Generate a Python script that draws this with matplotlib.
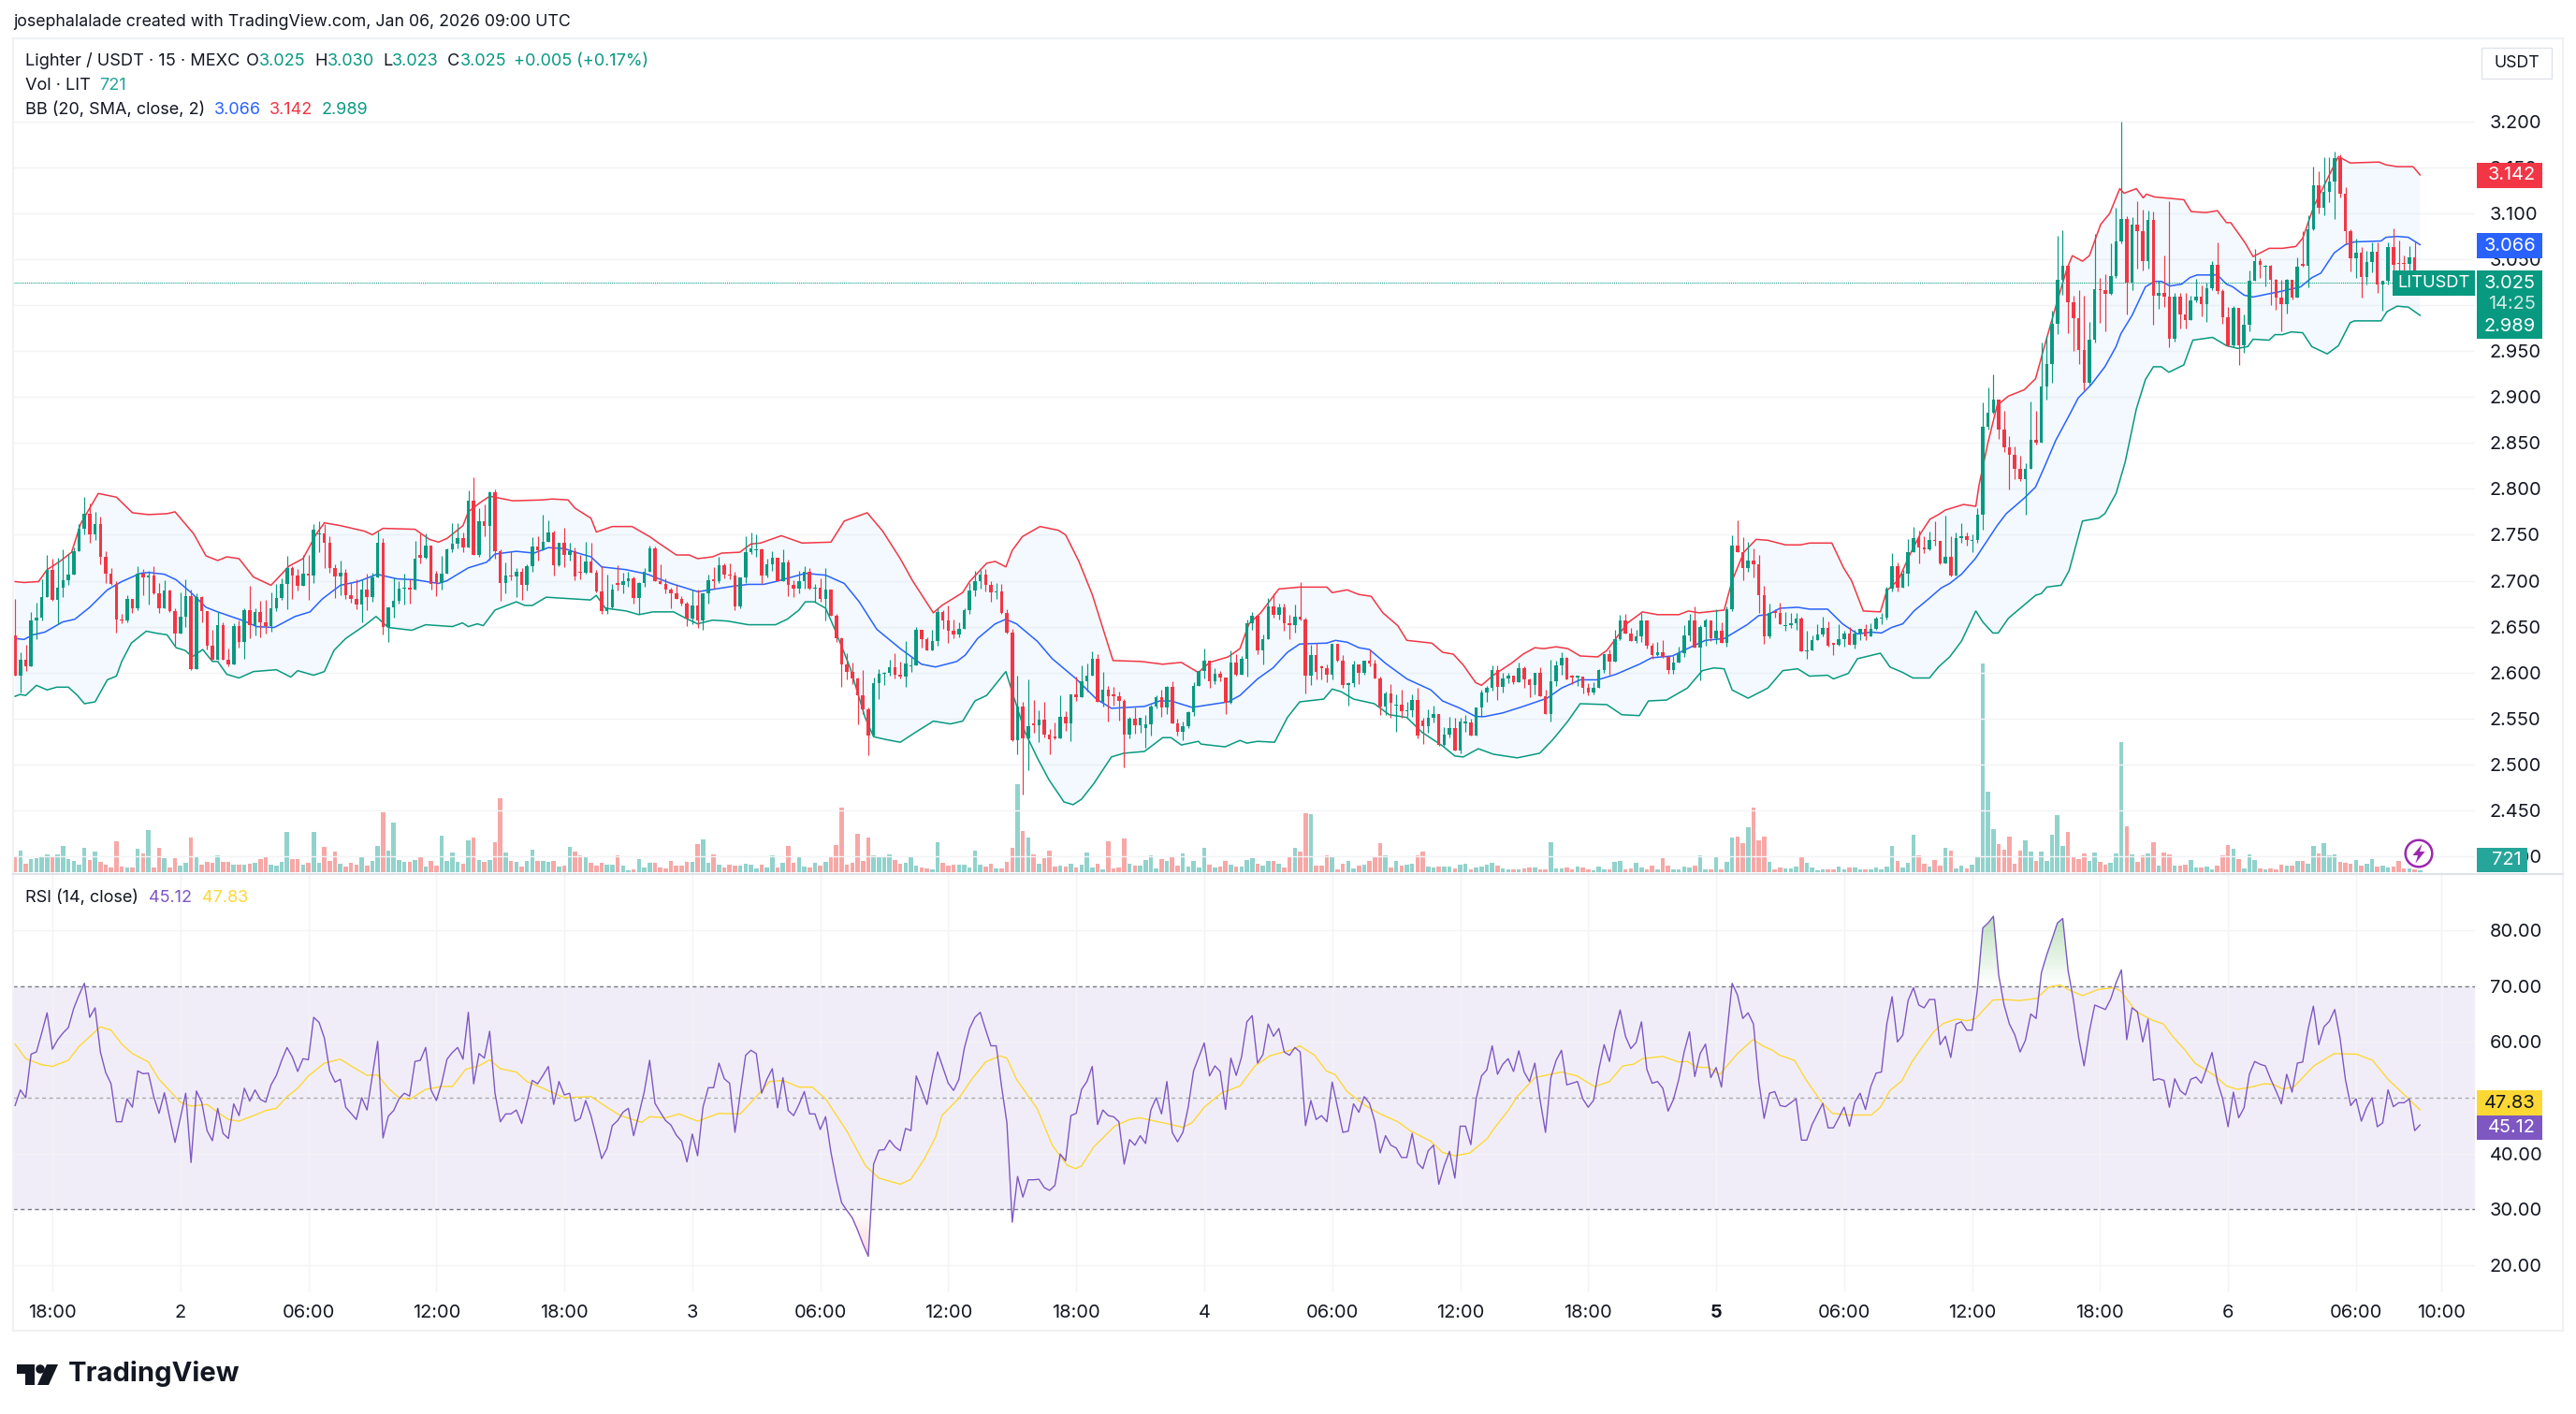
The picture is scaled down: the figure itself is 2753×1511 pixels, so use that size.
import numpy as np
import matplotlib
matplotlib.use('Agg')
import matplotlib.pyplot as plt
from matplotlib.patches import Rectangle, Circle, Polygon
from matplotlib.path import Path

plt.rcParams['font.family'] = ['Inter', 'Roboto', 'DejaVu Sans']

# 15 minute candles, prices in thousandths of USDT
first_open = 2640
closes = [
    2597,2614,2607,2657,2660,2682,2712,2679,2692,2701, 2707,2732,2757,2773,2750,2762,2726,2708,2696,2658,
    2657,2680,2670,2708,2704,2706,2686,2670,2689,2667, 2642,2661,2683,2604,2682,2667,2629,2614,2652,2614,
    2609,2651,2633,2668,2652,2666,2655,2651,2670,2681, 2696,2714,2706,2694,2708,2706,2756,2751,2741,2714,
    2705,2709,2684,2680,2674,2690,2682,2704,2741,2650, 2671,2678,2691,2692,2690,2724,2725,2738,2696,2697,
    2708,2734,2740,2746,2736,2787,2728,2765,2760,2796, 2732,2697,2706,2705,2710,2695,2716,2737,2733,2742,
    2752,2717,2741,2728,2732,2705,2709,2721,2709,2688, 2667,2671,2690,2695,2699,2703,2681,2697,2710,2735,
    2700,2696,2690,2686,2680,2675,2659,2673,2657,2686, 2701,2700,2717,2707,2706,2672,2704,2731,2735,2734,
    2706,2718,2725,2699,2720,2695,2691,2699,2710,2691, 2692,2680,2690,2662,2637,2609,2601,2593,2575,2560,
    2531,2588,2599,2600,2606,2598,2596,2610,2608,2646, 2636,2624,2634,2666,2657,2645,2641,2648,2668,2689,
    2699,2707,2695,2687,2688,2665,2643,2526,2563,2528, 2542,2543,2549,2532,2527,2528,2552,2545,2576,2573,
    2590,2597,2615,2568,2581,2574,2574,2569,2532,2550, 2543,2551,2544,2563,2573,2562,2584,2545,2535,2542,
    2557,2585,2602,2613,2590,2599,2595,2567,2611,2598, 2615,2654,2662,2624,2636,2672,2663,2671,2654,2652,
    2661,2658,2597,2619,2601,2605,2598,2631,2613,2586, 2588,2609,2600,2613,2610,2594,2563,2577,2567,2565,
    2558,2559,2570,2531,2542,2551,2555,2521,2532,2539, 2515,2547,2546,2531,2562,2578,2583,2603,2584,2593,
    2597,2589,2605,2592,2586,2600,2574,2555,2590,2608, 2616,2592,2595,2596,2583,2578,2583,2603,2620,2612,
    2636,2657,2642,2634,2639,2657,2629,2619,2622,2617, 2603,2611,2621,2640,2657,2627,2650,2657,2637,2645,
    2632,2669,2738,2731,2714,2722,2718,2684,2639,2665, 2665,2653,2652,2654,2659,2623,2624,2635,2641,2649,
    2629,2630,2636,2642,2630,2642,2648,2639,2648,2659, 2660,2691,2716,2692,2708,2731,2746,2736,2734,2744,
    2743,2719,2726,2706,2746,2748,2744,2744,2772,2868, 2883,2897,2865,2845,2837,2822,2811,2822,2853,2850,
    2912,2936,2980,3028,3043,3003,2986,2951,2916,2962, 3018,3016,3012,3032,3070,3094,3025,3088,3081,3048,
    3093,3010,3013,3009,2964,3009,2990,2984,3005,3009, 3001,3019,3044,3015,2987,2956,2997,2956,2979,3027,
    3048,3044,3043,3028,3008,3001,3028,3008,3042,3043, 3083,3131,3106,3124,3135,3160,3122,3081,3051,3057,
    3031,3047,3058,3023,3027,3063,3044,3045,3045,3052, 3020,3025]
highs = [
    2680,2622,2630,2666,2676,2702,2728,2724,2725,2734, 2729,2736,2762,2791,2784,2775,2770,2732,2714,2699,
    2664,2684,2679,2716,2713,2711,2716,2697,2701,2690, 2670,2687,2702,2690,2686,2683,2663,2647,2666,2655,
    2626,2654,2657,2670,2694,2670,2678,2679,2687,2696, 2703,2727,2716,2713,2728,2728,2762,2765,2762,2748,
    2718,2722,2713,2697,2702,2702,2708,2709,2754,2746, 2671,2704,2700,2708,2702,2743,2751,2751,2738,2711,
    2727,2735,2763,2763,2752,2798,2813,2779,2783,2797, 2799,2734,2720,2732,2714,2714,2718,2747,2748,2772,
    2766,2755,2741,2758,2741,2736,2728,2742,2741,2712, 2716,2707,2696,2717,2709,2710,2705,2698,2714,2738,
    2737,2718,2703,2692,2695,2683,2677,2690,2690,2686, 2707,2715,2726,2719,2719,2710,2704,2748,2752,2750,
    2735,2724,2732,2725,2734,2723,2701,2711,2716,2714, 2696,2703,2714,2685,2664,2638,2621,2611,2595,2603,
    2562,2595,2604,2601,2614,2621,2612,2634,2617,2650, 2646,2638,2647,2670,2668,2673,2658,2655,2670,2697,
    2711,2712,2713,2700,2697,2696,2669,2648,2597,2568, 2592,2570,2559,2568,2538,2546,2575,2558,2576,2596,
    2608,2610,2623,2620,2601,2585,2584,2579,2571,2552, 2562,2551,2554,2565,2575,2581,2585,2590,2550,2547,
    2558,2589,2602,2626,2612,2605,2602,2592,2624,2620, 2618,2658,2666,2663,2641,2681,2686,2675,2675,2663,
    2674,2698,2660,2630,2632,2608,2609,2631,2628,2619, 2589,2613,2608,2613,2625,2614,2596,2579,2587,2576,
    2581,2568,2576,2583,2551,2560,2564,2555,2541,2552, 2551,2551,2554,2550,2562,2581,2585,2608,2608,2600,
    2600,2595,2611,2607,2594,2600,2606,2581,2614,2613, 2622,2617,2598,2597,2594,2588,2589,2604,2620,2625,
    2646,2663,2664,2649,2646,2665,2657,2632,2633,2635, 2618,2618,2628,2652,2664,2672,2652,2659,2652,2669,
    2655,2672,2749,2766,2747,2742,2735,2728,2694,2675, 2669,2676,2666,2665,2665,2661,2645,2640,2653,2661,
    2656,2632,2653,2645,2650,2647,2648,2653,2654,2661, 2665,2693,2730,2720,2712,2745,2759,2755,2748,2754,
    2765,2743,2771,2748,2752,2763,2752,2750,2779,2894, 2911,2925,2897,2885,2857,2846,2836,2828,2895,2885,
    2959,2967,2994,3076,3082,3042,3010,3016,3010,2982, 3078,3030,3034,3067,3106,3200,3097,3096,3113,3104,
    3103,3102,3027,3054,3113,3013,3013,3013,3010,3029, 3022,3025,3048,3068,3018,2998,2999,2994,2990,3038,
    3061,3051,3044,3044,3029,3028,3029,3026,3052,3081, 3098,3151,3146,3161,3161,3167,3164,3129,3083,3073,
    3063,3059,3069,3069,3027,3068,3084,3071,3054,3064, 3070,3030]
lows = [
    2597,2578,2602,2608,2636,2657,2684,2678,2653,2682, 2695,2708,2734,2750,2741,2744,2718,2697,2695,2643,
    2654,2655,2665,2668,2684,2674,2685,2665,2672,2666, 2629,2644,2650,2603,2612,2655,2625,2614,2621,2614,
    2607,2615,2627,2615,2637,2640,2638,2642,2644,2667, 2679,2669,2680,2689,2696,2679,2697,2731,2714,2709,
    2681,2684,2680,2676,2669,2655,2668,2677,2708,2641, 2633,2660,2675,2674,2675,2690,2719,2724,2690,2683,
    2690,2708,2731,2735,2731,2740,2728,2726,2748,2722, 2724,2678,2686,2701,2682,2679,2689,2710,2722,2733,
    2742,2706,2716,2715,2722,2701,2702,2708,2709,2687, 2664,2664,2670,2689,2686,2693,2675,2664,2693,2711,
    2700,2696,2686,2670,2680,2673,2651,2653,2649,2647, 2675,2691,2697,2703,2702,2668,2670,2697,2729,2726,
    2696,2704,2711,2699,2699,2683,2682,2686,2691,2690, 2677,2677,2657,2662,2633,2584,2592,2587,2544,2555,
    2510,2531,2571,2586,2597,2594,2594,2584,2601,2609, 2627,2624,2632,2629,2648,2632,2637,2638,2648,2664,
    2683,2691,2688,2677,2680,2664,2642,2525,2511,2467, 2494,2534,2524,2529,2511,2527,2537,2536,2525,2569,
    2580,2579,2600,2568,2563,2547,2564,2548,2497,2528, 2533,2534,2518,2531,2561,2552,2555,2545,2531,2526,
    2539,2553,2586,2593,2583,2587,2590,2555,2566,2597, 2599,2596,2646,2620,2609,2641,2660,2658,2645,2636,
    2643,2657,2577,2586,2592,2592,2589,2592,2612,2583, 2564,2584,2587,2598,2607,2594,2554,2554,2551,2535,
    2551,2552,2552,2528,2522,2534,2546,2520,2520,2529, 2515,2512,2535,2531,2533,2552,2568,2580,2570,2578,
    2588,2587,2594,2583,2573,2576,2574,2555,2547,2585, 2598,2592,2587,2585,2577,2575,2576,2583,2600,2598,
    2612,2635,2642,2634,2632,2633,2626,2615,2618,2616, 2599,2599,2612,2617,2634,2627,2591,2629,2634,2631,
    2632,2628,2667,2731,2701,2710,2704,2665,2631,2637, 2660,2653,2645,2649,2646,2623,2615,2626,2636,2639,
    2628,2619,2629,2628,2630,2626,2635,2635,2639,2647, 2653,2658,2688,2688,2692,2694,2735,2719,2730,2733,
    2738,2718,2722,2705,2716,2741,2738,2731,2741,2756, 2865,2882,2854,2840,2799,2811,2809,2772,2824,2848,
    2850,2897,2916,2969,3011,2970,2950,2936,2907,2913, 2959,2981,2972,3011,3030,3067,2990,3016,3040,3038,
    3040,2979,2996,2998,2954,2960,2975,2975,2984,3003, 2988,2982,3017,3012,2980,2955,2954,2935,2948,2972,
    3030,3030,3021,3000,2995,2972,2991,3006,3015,3042, 3020,3082,3100,3098,3112,3094,3117,3067,3037,3030,
    3008,3023,3036,3013,2994,3023,3023,3020,3022,3030, 3013,3023]
# bars whose open was not the previous close (candle number: open)
open_exceptions = {57: 2750, 76: 2728, 79: 2708, 106: 2710, 113: 2697, 139: 2733, 168: 2607, 191: 2545,
                   195: 2530, 206: 2576, 212: 2539, 245: 2607, 259: 2564, 264: 2548, 272: 2545, 292: 2596,
                   330: 2667, 332: 2651, 341: 2632, 367: 2743, 422: 3042, 429: 3045, 447: 3046, 448: 3046}

# volume, hundreds of LIT
volumes = [
    50,68,27,42,45,47,58,52,57,83, 42,35,25,78,40,65,32,25,14,98, 18,14,14,76,60,135,16,78,45,15,
    45,22,30,110,50,25,32,30,55,33, 33,25,25,25,28,30,42,52,25,20, 33,130,42,42,25,30,128,30,82,35,
    65,28,18,30,25,48,22,35,85,192, 70,160,40,33,33,38,52,18,35,22, 118,37,63,33,27,102,112,40,32,40,
    95,236,63,35,32,18,35,72,37,37, 32,35,17,22,82,65,55,50,30,22, 30,25,25,55,22,5,8,42,15,30,
    30,15,12,35,22,22,33,33,90,105, 30,57,25,15,25,20,22,28,25,12, 25,15,55,15,30,85,30,48,18,15,
    30,20,33,50,88,207,25,30,122,35, 110,55,50,50,58,40,28,30,48,22, 15,12,10,95,30,22,25,25,25,15,
    68,25,18,27,12,12,33,78,282,132, 110,57,28,45,68,18,22,18,27,14, 25,62,15,27,8,98,12,15,108,28,
    22,20,40,55,12,42,35,50,22,60, 18,35,15,78,25,15,18,35,25,18, 18,38,45,27,22,35,35,28,15,48,
    78,66,190,186,22,20,55,50,10,28, 35,13,22,25,35,50,92,55,15,35, 20,25,28,55,66,18,15,18,18,18,
    12,25,27,10,15,18,25,30,22,12, 10,10,10,12,15,15,10,10,95,12, 12,15,10,18,15,8,5,18,10,10,
    32,35,10,12,30,15,10,22,10,45, 22,10,10,18,15,20,55,10,10,48, 10,32,110,115,92,145,207,102,115,32,
    10,15,12,12,18,48,30,15,5,8, 8,8,18,10,15,15,8,8,10,15, 10,18,85,37,15,30,120,55,27,18,
    38,22,78,70,12,20,12,23,52,670, 258,138,90,72,114,27,70,102,66,36, 66,36,120,183,84,129,51,42,60,36,
    63,33,24,30,60,417,147,57,33,54, 60,96,21,63,57,21,21,24,39,15, 15,18,9,21,54,87,75,42,12,57,
    39,12,9,12,9,24,21,21,36,36, 27,84,60,93,54,57,33,30,27,39, 21,27,42,18,21,15,18,36,12,12,
    9,7.21]

# Bollinger bands (candle number, price in thousandths)
upper_k = [0,1.7,4.4,6,8.4,10.6,12.3,15.6,19,22,25,28.5,30,33.5,35.8,38,39.7,42,44.7,48,51.4,54,56.5,58,61,65.5,67,69,75,77.7,
           79.4,81,84,85,87.2,89,93.4,99,100.7,103.7,105,108,109,112,115.7,119,120.7,124,126.4,128,130.8,132.5,135.9,138,139.8,143.7,147.6,153,155.5,159.8,
           162.7,166,168.3,172.2,173.8,177.7,179,182.2,183.8,185.8,187,188.9,192.2,195.6,197,199.5,202,205.9,211.2,215.2,218.7,221.9,224,227.5,229.7,231.4,233.6,237,240.9,246,
           247,249.8,252,254.3,256.5,259.3,261,265.7,267.7,269.7,271.6,273.9,275,277.2,280.6,282.8,285,286.7,289,291.2,293.5,296.8,298.5,300.2,302.4,305.2,308,312,313.8,315.8,
           320.5,322,324.2,326.5,328.7,332,334.8,336.5,340.7,342.9,344.4,346.6,349.8,351,353.2,355.3,357.4,359.1,360.7,362,365.4,367.7,368.3,370,371.7,373.8,376.8,378.9,
           380.5,382.7,384.8,385.8,387.7,389,391.1,392.8,394.7,395.5,397.8,399.1,399.7,401.2,406.7,408.1,410.9,413,414.7,415.5,418.2,419.7,422.7,425.2,427.7,429,431.1,435.7,437.9,443.3,
           444.6,446.7,449.7,451]
upper_v = [2699,2698,2699,2712,2721,2731,2762,2795,2791,2774,2772,2773,2775,2751,2727,2722,2726,2724,2704,2695,2716,2724,2751,2763,2760,2754,2750,2757,2756,2745,
           2742,2746,2760,2775,2785,2792,2787,2788,2789,2788,2779,2768,2753,2759,2759,2748,2741,2728,2728,2724,2726,2730,2731,2740,2741,2749,2741,2742,2765,2774,
           2754,2724,2700,2665,2673,2687,2699,2719,2721,2715,2733,2748,2759,2755,2750,2721,2685,2613,2612,2609,2611,2600,2611,2617,2626,2653,2665,2691,2693,2693,
           2687,2690,2685,2683,2665,2651,2635,2632,2622,2620,2608,2589,2586,2597,2610,2620,2627,2626,2628,2626,2618,2617,2624,2637,2654,2666,2663,2663,2667,2665,
           2668,2700,2731,2745,2744,2739,2739,2741,2741,2714,2700,2667,2666,2689,2701,2728,2752,2767,2772,2777,2783,2781,2804,2851,2891,2901,2908,2920,
           2954,2999,3040,3054,3048,3054,3088,3100,3127,3122,3127,3117,3121,3118,3115,3102,3101,3103,3090,3090,3068,3053,3062,3062,3064,3073,3108,3162,3155,3156,
           3153,3151,3151,3142]
middle_k = [0,1.7,3.3,5.6,8.9,11.2,14,17.3,20,23.5,25,28,30.2,33,35.8,38,43,45.3,48.6,52.5,55.3,57.6,61,64.3,67.9,71.6,75,79.4,81,85,
            88.4,90,94,97.3,100,103,105,108,110,114.6,118.6,123,128,130.3,134.7,137.5,140.4,142.6,148.2,152,155.5,158.3,161.6,166,170,172.6,176.6,178.2,180.5,183.8,
            185.8,187.8,191.7,194.5,199,202.8,205.6,211.8,214.6,216.8,220.7,223,227.5,229.7,233,235.9,238.6,240.9,246,247.6,249.8,252,254,257,261,265.5,267.7,271,273.9,275.6,
            279,282.8,287.3,290,293.5,296.8,300.2,304.6,306.9,310.8,314.7,317,320.5,324.8,327,328.7,331,334.3,336.5,339.9,342.7,345.5,348.1,350,351.9,354,356.1,358.6,361.2,362.8,
            365,367.6,370,371.7,373.4,376.8,378.9,380.5,382.7,385.2,386.9,389.4,391.9,394,394.9,397,399.5,401.2,402.5,404.1,406.3,407.8,409.2,413,414.7,415.9,418,419.7,424.8,428.6,
            430.7,432.4,434.9,437,438.7,443.7,444.6,446.7,448.8,451]
middle_v = [2637,2636,2641,2644,2655,2658,2671,2690,2699,2708,2709,2707,2701,2687,2671,2666,2656,2650,2649,2661,2666,2680,2695,2699,2707,2702,2701,2697,2700,2714,
            2720,2729,2732,2730,2736,2735,2731,2726,2715,2712,2707,2697,2688,2690,2694,2696,2696,2699,2708,2706,2697,2677,2647,2626,2609,2606,2612,2619,2637,2653,
            2658,2653,2634,2615,2593,2571,2561,2563,2569,2569,2562,2564,2568,2575,2593,2605,2622,2631,2632,2635,2633,2627,2625,2610,2593,2581,2569,2561,2552,2552,
            2556,2563,2572,2583,2592,2592,2598,2609,2616,2618,2629,2635,2637,2652,2662,2663,2670,2671,2669,2669,2653,2642,2644,2643,2649,2653,2667,2679,2692,2697,
            2707,2724,2745,2760,2773,2790,2802,2823,2853,2880,2899,2914,2933,2955,2969,2989,3020,3026,3026,3021,3023,3030,3033,3033,3023,3020,3011,3009,3015,3020,
            3030,3035,3057,3066,3069,3070,3074,3075,3074,3066]
lower_k = [0,0.9,2,4,6,7.8,10,11.7,13,15,17.3,19,20,21.8,24.6,26.3,28.5,30.2,31.9,33.2,35.2,37,38,39.7,42,44.7,49,51.7,53,56,
           58,59.8,62,65.5,67.7,70,74.4,77,82,83.9,85,86.7,87.8,90,94,95.6,97,99.6,105,107.9,109,110.7,114.6,117,119.6,123.5,125.8,128,130.8,133.6,
           137.5,142.6,144.8,147,148.2,149.9,152,153.8,156.6,159.4,161,163.3,166,168.9,172.2,175.4,177.7,180,182.2,185.8,187.2,189.4,191.7,193.9,196.7,198.4,200,202.3,205.6,207.9,
           211.8,215.2,216.8,218.7,221.9,222.4,226.9,229.7,231,233,236.2,238.6,240.9,245.4,247,248.7,251,254.9,257.7,261,263.8,267.7,270,271.6,274.4,277.2,281.7,285.9,288.4,291.2,
           293.5,298.5,301.3,304.6,306.3,309.7,313.6,316.4,318.6,320.5,322,325,328.7,331.5,334.3,336.5,339.9,341,343.8,345.5,349.8,351.6,354,355.9,359,360.7,362.8,365,367.7,369,
           370.9,371.9,373.8,378.9,380,381,383.7,385.2,387.7,390.7,391.9,394,395.7,397.8,399.5,401,402.5,403.9,406.7,408.4,409.6,412.1,414.7,416.8,418.7,419.7,422.7,423.8,425.2,426.9,
           429,430.7,433.6,435.7,437.9,438.7,443.7,444.8,446.7,448.8,451]
lower_v = [2574,2576,2575,2586,2581,2584,2584,2575,2566,2568,2592,2596,2612,2632,2645,2643,2641,2627,2624,2617,2625,2612,2612,2598,2594,2601,2603,2595,2602,2597,
           2601,2624,2637,2651,2661,2649,2646,2652,2650,2654,2650,2653,2651,2668,2677,2673,2673,2682,2680,2679,2684,2670,2667,2663,2666,2666,2659,2653,2657,2656,
           2652,2652,2658,2668,2677,2677,2670,2646,2605,2551,2530,2527,2524,2535,2547,2544,2547,2569,2575,2601,2575,2535,2507,2483,2459,2456,2462,2479,2508,2512,
           2514,2529,2529,2521,2525,2522,2519,2526,2523,2525,2524,2551,2568,2571,2582,2579,2571,2566,2554,2551,2535,2520,2509,2508,2517,2511,2507,2512,2527,2547,
           2566,2565,2554,2553,2569,2570,2583,2602,2605,2604,2581,2572,2583,2602,2604,2596,2597,2593,2599,2615,2621,2606,2600,2594,2594,2606,2617,2634,2667,2655,
           2643,2643,2659,2684,2686,2693,2695,2711,2765,2768,2773,2795,2829,2887,2919,2933,2933,2927,2935,2962,2963,2965,2956,2953,2955,2963,2962,2968,2968,2971,
           2970,2955,2947,2956,2981,2983,2983,2993,2999,2998,2989]

# RSI(14), one value per candle
rsi = [
    48.6,51.4,50.0,57.8,58.2,61.6,65.2,58.7,60.4,61.6, 62.6,66.0,68.4,70.5,64.4,66.1,58.2,54.5,52.5,45.7,
    45.7,49.8,48.3,54.8,54.3,54.4,50.2,47.2,50.9,46.4, 42.0,46.4,50.8,38.4,51.2,49.2,44.1,42.3,48.1,43.6,
    42.7,48.9,46.8,51.7,49.4,51.4,49.7,49.2,52.3,54.0, 56.7,59.0,57.3,54.7,57.0,56.8,64.4,63.5,60.7,54.8,
    52.8,53.3,48.3,47.2,46.1,50.0,47.8,53.9,60.1,42.8, 46.7,47.7,49.8,50.8,50.3,56.5,56.7,59.0,51.4,49.5,
    52.6,56.9,58.1,59.0,56.9,65.3,52.5,57.9,57.1,61.9, 50.8,45.7,47.1,47.1,47.8,45.4,49.2,53.1,52.5,54.0,
    55.6,48.8,52.9,50.5,50.8,45.8,46.3,49.5,46.8,43.0, 39.1,40.9,45.0,45.9,47.4,48.1,43.2,47.1,51.1,56.7,
    49.0,47.4,45.9,45.1,43.3,42.2,38.5,43.5,39.6,48.3, 51.8,51.8,56.2,53.4,52.6,43.8,50.8,57.6,58.5,57.9,
    50.8,53.3,55.2,48.2,53.6,47.7,46.8,48.8,51.1,47.1, 47.1,44.3,46.6,40.2,35.3,31.2,29.8,28.5,26.3,23.8,
    21.6,38.1,40.6,40.7,42.4,41.2,40.5,44.5,44.1,53.9, 51.4,48.8,53.9,58.2,55.4,52.6,51.3,53.3,58.8,62.4,
    64.4,65.3,62.2,59.3,59.3,52.0,45.5,27.7,35.9,32.2, 35.3,35.3,35.4,33.9,33.4,34.3,39.9,38.7,46.8,47.2,
    51.5,52.9,55.6,45.2,47.8,46.8,46.6,45.7,38.1,42.5, 41.5,43.2,41.8,47.8,50.0,47.1,52.9,43.8,42.1,43.8,
    48.3,54.8,57.3,59.8,53.9,55.7,54.7,47.9,57.1,54.0, 57.3,63.6,64.7,56.2,57.7,63.2,61.0,62.4,58.2,57.6,
    59.0,58.2,45.0,49.5,46.1,46.8,45.7,52.8,48.3,43.8, 44.0,48.9,47.4,50.2,49.0,45.7,40.1,43.2,41.5,41.0,
    39.3,39.3,43.6,38.3,37.3,40.5,41.5,34.5,37.8,40.4, 35.6,44.9,44.9,41.6,49.8,53.9,55.0,59.3,54.2,56.0,
    57.0,54.7,58.4,54.6,52.9,56.2,49.5,43.8,53.6,56.7, 58.5,52.3,52.6,52.9,49.8,48.3,49.5,55.1,59.5,56.5,
    61.9,65.7,61.0,58.8,59.9,63.6,55.1,52.6,52.9,51.7, 47.6,49.7,53.3,58.2,61.8,53.8,57.9,59.6,53.6,55.4,
    51.9,61.3,70.5,68.4,64.2,65.2,63.2,52.9,46.3,50.8, 51.1,48.6,48.4,49.1,49.8,42.4,42.4,45.2,47.1,49.0,
    44.6,44.6,46.4,48.3,44.9,49.2,50.8,47.9,52.0,54.4, 54.6,63.2,68.1,60.0,61.2,67.4,69.7,66.6,66.1,67.6,
    67.6,59.5,61.0,57.2,63.2,63.6,62.1,62.1,69.4,80.4, 81.3,82.5,71.9,66.6,63.2,61.3,58.2,60.3,65.0,64.2,
    72.4,75.6,78.4,81.3,82.1,72.8,67.5,60.7,55.7,61.9, 66.6,66.2,65.8,67.7,70.6,72.9,60.4,66.1,65.4,60.0,
    64.1,53.1,53.4,53.1,48.3,53.4,51.3,50.5,53.3,53.7, 52.6,55.3,58.1,52.9,49.8,44.8,51.0,46.4,48.2,54.2,
    56.5,56.0,55.7,53.3,51.2,48.9,54.2,51.0,56.2,56.4, 62.2,66.4,59.5,62.7,63.7,65.8,60.7,53.3,48.6,49.8,
    45.8,48.3,50.0,44.8,45.5,51.4,48.4,49.1,49.1,49.8, 44.1,45.12]
rsi_ma_k = [0,2,5,7,10,12,16,18,20,22,25,27,31,33,36,38,40,42,45,47,49,51,53,55,58,61,63,66,68,70,
            72,74,77,80,82,84.5,87,89,91,94,96,99,103,108,111,113.5,117.5,119,122,124.5,128,132,136,139,141.5,144,147,149.5,152,156,
            159.5,162,166,168,170.5,172.65,173.8,177,179.4,182,184.7,186,187.8,191.7,194.5,197.3,198.9,200,202.3,206.2,209,210.9,216.3,219,220.7,223,226.3,229.7,232.5,235.3,
            239.8,240.9,243.7,245.9,247.6,249.8,253.2,256,259.3,261.6,265.5,267.7,270,272.8,276.1,277.2,280,281.7,285,290,292.9,296.2,299,301.5,303.5,305.2,309,312,313.6,315.3,
            317.5,319.7,323,325.9,327.9,329.6,330.9,333.7,336,338.8,340.8,343.8,348.1,349.8,351.6,353.8,355.7,358.2,359.9,361.6,364.1,366,367.7,369.2,370.9,373,375.9,379.1,381.4,383.5,
            385.2,387.7,390.7,393.6,394.9,397.8,400.8,402.9,404.6,406.7,408.8,412.6,414.7,416.8,419.3,421.8,423.5,425.2,427.3,431.1,434.9,439.1,442.1,445,448.4,451]
rsi_ma_v = [59.6,57.0,55.9,55.6,56.7,59.2,62.7,62.1,59.6,57.9,56.4,53.3,49.2,48.5,48.8,47.4,46.1,45.8,46.9,47.7,48.1,50.2,51.7,53.9,56.2,56.9,55.7,54.0,54.1,51.7,
            50.0,49.7,51.5,52.0,52.0,55.1,55.7,56.8,55.2,54.6,52.9,51.7,50.0,50.2,48.3,46.8,45.6,46.6,46.4,47.1,45.8,47.2,47.1,50.2,52.9,53.1,51.9,51.9,49.8,44.0,
            37.8,35.6,34.5,35.4,39.0,43.0,46.8,49.9,53.3,56.4,57.5,57.1,53.3,48.0,41.5,37.9,37.3,37.8,41.2,44.9,46.1,46.4,45.3,44.7,45.5,48.3,50.9,52.1,55.7,57.5,
            58.7,59.3,57.6,54.8,54.1,51.1,48.6,47.1,45.7,44.1,42.2,40.2,39.6,40.1,42.7,44.3,47.7,50.2,53.6,54.6,53.9,52.0,52.9,55.7,56.0,57.0,57.4,56.4,56.5,55.5,
            55.4,54.2,57.9,60.4,59.2,58.5,57.6,56.7,53.0,49.2,47.2,46.9,46.9,48.3,51.3,53.0,56.4,59.8,61.9,63.3,64.1,63.8,64.2,65.8,67.5,67.6,67.4,67.8,69.8,70.2,
            69.3,68.3,69.4,69.7,69.1,65.4,63.9,63.2,61.0,58.8,56.2,53.9,52.1,51.5,51.9,52.5,52.4,51.6,51.9,55.7,57.9,57.8,56.7,53.3,50.2,47.83]

price_ticks = [2.40,2.45,2.50,2.55,2.60,2.65,2.70,2.75,2.80,2.85,2.90,2.95,3.00,3.05,3.10,3.15,3.20]
rsi_ticks = [20,30,40,50,60,70,80]
time_labels = ['18:00','2','06:00','12:00','18:00','3','06:00','12:00','18:00','4','06:00','12:00','18:00','5',
               '06:00','12:00','18:00','6','06:00','10:00']
time_ticks = [7,31,55,79,103,127,151,175,199,223,247,271,295,319,343,367,391,415,439,455]

W, H = 2753, 1511
GREEN, RED, BLUE = '#089981', '#F23645', '#2962FF'
TEXT, GRID = '#131722', '#F3F4F6'
PURPLE, YELLOW = '#7E57C2', '#FDD835'
TICK_SIZE = 14.4

closes_a = np.array(closes) / 1000
opens_a = np.r_[first_open, closes[:-1]].astype(float) / 1000
for n, v in open_exceptions.items():
    opens_a[n] = v / 1000
highs_a = np.maximum(np.array(highs) / 1000, np.maximum(opens_a, closes_a))
lows_a = np.minimum(np.array(lows) / 1000, np.minimum(opens_a, closes_a))
k = np.arange(len(closes))
up = closes_a >= opens_a
xlim = (-0.37, 461.3)
rsi_ylim = (15.14, 90.4)


def pane(left, top, right, bottom):
    return fig.add_axes([left / W, 1 - bottom / H, (right - left) / W, (bottom - top) / H])


fig = plt.figure(figsize=(W / 100, H / 100), dpi=100, facecolor='white')

# price pane
ax = pane(14, 41, 2645, 932)
ax_vol = ax.twinx()
ax.set_zorder(ax_vol.get_zorder() + 1)
ax.patch.set_visible(False)
ax.set_xlim(xlim)
ax.set_ylim(2.3825, 3.2907)
ax_vol.set_ylim(0, 2673)
ax_vol.bar(k, volumes, width=0.8, linewidth=0,
           color=np.where(up[:, None], [[0.149, 0.651, 0.604, 0.5]], [[0.937, 0.325, 0.314, 0.5]]))
ax_vol.set_yticks([])
ax.set_xticks(time_ticks)
ax.set_yticks(price_ticks)
ax.set_yticklabels(['%.3f' % t for t in price_ticks])
ax.yaxis.tick_right()
ax.tick_params(axis='y', length=0, pad=11.5, labelsize=TICK_SIZE, labelcolor=TEXT)
ax.tick_params(axis='x', length=0, labelbottom=False)
ax_vol.set_xticks(time_ticks)
ax_vol.tick_params(axis='x', length=0, labelbottom=False)
ax_vol.grid(axis='x', color=GRID, lw=0.9)
ax_vol.set_axisbelow(True)
ax.grid(axis='y', color=GRID, lw=1.0)
ax.set_axisbelow(True)

ux, uy = np.array(upper_k), np.array(upper_v) / 1000
lx, ly = np.array(lower_k), np.array(lower_v) / 1000
ax.fill(np.r_[ux, lx[::-1]], np.r_[uy, ly[::-1]], color='#2196F3', alpha=0.05, lw=0, zorder=1)
ax.plot(ux, uy, color=RED, lw=1.1, zorder=2)
ax.plot(lx, ly, color=GREEN, lw=1.1, zorder=2)
ax.plot(middle_k, np.array(middle_v) / 1000, color=BLUE, lw=1.1, zorder=2)
ax.hlines(closes_a[-1], xlim[0], xlim[1], color=GREEN, lw=0.75, linestyles=(0, (1, 1)), zorder=2)

candle_colors = np.where(up, GREEN, RED)
ax.vlines(k, lows_a, highs_a, colors=candle_colors, lw=0.85, zorder=3)
ax.bar(k, np.maximum(np.abs(closes_a - opens_a), 0.0011), bottom=np.minimum(opens_a, closes_a),
       width=0.62, color=candle_colors, lw=0, zorder=4)

# RSI pane
ax2 = pane(14, 932, 2645, 1381)
ax2.set_xlim(xlim)
ax2.set_ylim(rsi_ylim)
ax2.axhspan(30, 70, color=PURPLE, alpha=0.1, lw=0, zorder=0)
ax2.hlines([30, 70], xlim[0], xlim[1], color='#787B86', lw=1.0, linestyles=(0, (3, 2.5)), zorder=2)
ax2.hlines(50, xlim[0], xlim[1], color='#787B86', alpha=0.6, lw=1.0, linestyles=(0, (3, 2.5)), zorder=2)
ax2.set_xticks(time_ticks)
ax2.set_xticklabels(time_labels)
ax2.get_xticklabels()[time_labels.index('5')].set_fontweight('bold')
ax2.set_yticks(rsi_ticks)
ax2.set_yticklabels(['%.2f' % t for t in rsi_ticks])
ax2.yaxis.tick_right()
ax2.tick_params(axis='y', length=0, pad=11.5, labelsize=TICK_SIZE, labelcolor=TEXT)
ax2.tick_params(axis='x', length=0, pad=9.2, labelsize=TICK_SIZE, labelcolor=TEXT)
ax2.grid(axis='both', color=GRID, lw=1.0)
ax2.set_axisbelow(True)

rsi_a = np.array(rsi)


def shade(where, y0, y1, rgb, amax):
    poly = ax2.fill_between(k, rsi_a, y0, where=where, interpolate=True, color='none', lw=0)
    paths = poly.get_paths()
    ramp = np.zeros((64, 1, 4))
    ramp[..., :3] = rgb
    ramp[:, 0, 3] = np.linspace(amax, 0, 64) if y1 > y0 else np.linspace(0, amax, 64)
    img = ax2.imshow(ramp, extent=[xlim[0], xlim[1], min(y0, y1), max(y0, y1)], origin='upper',
                     aspect='auto', zorder=1)
    img.set_clip_path(Path.make_compound_path(*paths), transform=ax2.transData)


shade(rsi_a > 70, 70, 83, (0.30, 0.69, 0.31), 0.38)
shade(rsi_a < 30, 30, 21, (0.95, 0.21, 0.27), 0.22)
ax2.set_xlim(xlim)
ax2.set_ylim(rsi_ylim)
ax2.plot(rsi_ma_k, rsi_ma_v, color=YELLOW, lw=1.0, zorder=3)
ax2.plot(k, rsi_a, color=PURPLE, lw=1.0, zorder=4)

for a in (ax, ax_vol, ax2):
    for s in a.spines.values():
        s.set_visible(False)

# everything placed by pixel: frame, labels on the scales, legend, logo
ov = fig.add_axes([0, 0, 1, 1], facecolor='none', zorder=20)
ov.set_xlim(0, W)
ov.set_ylim(H, 0)
ov.axis('off')

ov.add_patch(Rectangle((14, 41), 2725, 1381, fill=False, ec='#F0F1F4', lw=1.6))
ov.plot([14, 2739], [934, 934], color='#E0E3EB', lw=1.5)


def txt(x, y, s, color=TEXT, size=13.2, ha='left', **kw):
    ov.text(x, y, s, color=color, fontsize=size, ha=ha, va='center', **kw)


def box(x0, y0, x1, y1, color):
    ov.add_patch(Rectangle((x0, y0), x1 - x0, y1 - y0, fc=color, ec='none'))


txt(14, 24, 'josephalalade created with TradingView.com, Jan 06, 2026 09:00 UTC', size=12.8)
txt(27, 65, 'Lighter / USDT · 15 · MEXC', size=13.1)
for x, s in [(263, 'O'), (336, 'H'), (409, 'L'), (478, 'C')]:
    txt(x, 65, s, size=13.1)
for x, s in [(277, '3.025'), (350, '3.030'), (419, '3.023'), (492, '3.025'), (549, '+0.005 (+0.17%)')]:
    txt(x, 65, s, color=GREEN, size=13.0)
txt(27, 91, 'Vol · LIT', size=13.1)
txt(106, 91, '721', color='#26A69A', size=13.1)
txt(27, 117.5, 'BB (20, SMA, close, 2)', size=13.0)
txt(228.5, 117.5, '3.066', color=BLUE, size=13.0)
txt(288, 117.5, '3.142', color=RED, size=13.0)
txt(344, 117.5, '2.989', color=GREEN, size=13.0)
txt(27, 959, 'RSI (14, close)', size=13.0)
txt(159, 959, '45.12', color=PURPLE, size=13.0)
txt(215.6, 959, '47.83', color=YELLOW, size=13.0)

ov.add_patch(Rectangle((2652, 51), 75, 33, fc='white', ec='#E0E3EB', lw=1))
txt(2689.5, 67.5, 'USDT', ha='center', size=12.8)

box(2646.5, 174, 2717, 200.7, RED)
txt(2710, 187.5, '3.142', color='white', ha='right', size=TICK_SIZE)
box(2646.5, 249, 2717, 275.7, BLUE)
txt(2710, 262.5, '3.066', color='white', ha='right', size=TICK_SIZE)
box(2646.5, 289, 2717, 362, GREEN)
box(2557, 289, 2645, 316, GREEN)
txt(2601, 302.5, 'LITUSDT', color='white', ha='center', size=13.2)
txt(2710, 302.5, '3.025', color='white', ha='right', size=TICK_SIZE)
txt(2710, 325, '14:25', color='#CFEAE4', ha='right', size=TICK_SIZE)
txt(2710, 349, '2.989', color='white', ha='right', size=TICK_SIZE)
box(2646.5, 906, 2701, 932, '#26A69A')
txt(2695, 919.5, '721', color='white', ha='right', size=TICK_SIZE)
box(2646.5, 1165, 2717, 1192, YELLOW)
txt(2710, 1178.5, '47.83', ha='right', size=TICK_SIZE)
box(2646.5, 1192, 2717, 1218, PURPLE)
txt(2710, 1205, '45.12', color='white', ha='right', size=TICK_SIZE)

# lightning badge
ov.add_patch(Circle((2585, 912), 14.3, fc='white', ec='#9C27B0', lw=1.8))
ov.add_patch(Polygon([(2588.5, 902), (2578.5, 914), (2584, 914), (2581.5, 922.5),
                      (2591.5, 910), (2586, 910)], fc='#9C27B0', ec='none'))

# TradingView logo
ov.add_patch(Polygon([(18, 1458), (37, 1458), (37, 1480), (27, 1480), (27, 1468), (18, 1468)], fc=TEXT, ec='none'))
ov.add_patch(Circle((43, 1463), 4.8, fc=TEXT, ec='none'))
ov.add_patch(Polygon([(50, 1458), (62, 1458), (52, 1480), (40, 1480)], fc=TEXT, ec='none'))
txt(73, 1468.5, 'TradingView', size=21, fontweight='bold')

fig.savefig('out.png', dpi=100)
